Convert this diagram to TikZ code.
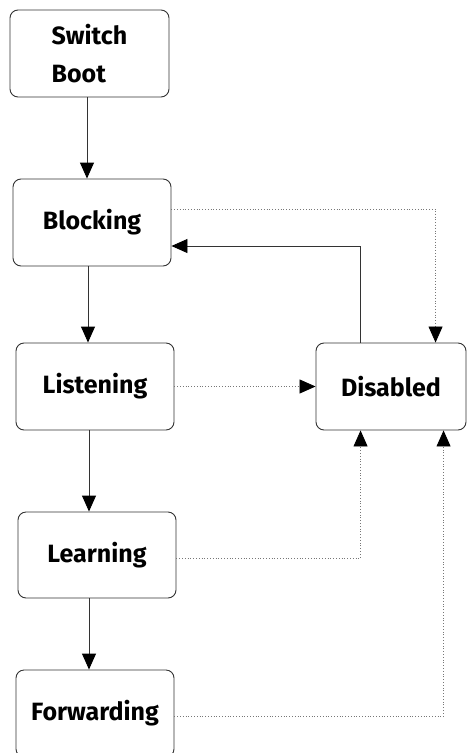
\documentclass[tikz,border=0pt]{standalone}
\usepackage{fontspec}
\setmainfont{Fira Sans}
\usetikzlibrary{arrows.meta,calc}
\definecolor{edge}{HTML}{333333}
\definecolor{dotc}{HTML}{777777}
\begin{document}
\begin{tikzpicture}[x=1pt,y=-1pt,
  state/.style={draw=edge,line width=0.9pt,rounded corners=8pt,minimum width=158pt,minimum height=87pt,inner sep=0pt,font=\fontsize{25}{38}\selectfont\bfseries},
  flow/.style={draw=edge,line width=0.9pt,-{Triangle[length=16pt,width=14pt,color=black]}},
  alt/.style={draw=dotc,line width=0.8pt,dotted,-{Triangle[length=16pt,width=14pt,color=black]}}]
\useasboundingbox (0,0) rectangle (467,753);
\node[state,minimum width=159pt,align=left] (SB) at (89.5,53.5) {Switch\\Boot};
\node[state] (BL) at (92,222.5) {Blocking};
\node[state] (LI) at (95,386.5) {Listening};
\node[state,minimum height=86pt] (LE) at (97,555) {Learning};
\node[state] (FW) at (95,713.5) {Forwarding};
\node[state,minimum width=150pt] (DI) at (391,386.5) {Disabled};
% main chain
\draw[flow] (SB.south -| 87,0) -- (BL.north -| 87,0);
\draw[flow] (BL.south -| 88,0) -- (LI.north -| 88,0);
\draw[flow] (LI.south -| 89,0) -- (LE.north -| 89,0);
\draw[flow] (LE.south -| 89,0) -- (FW.north -| 89,0);
% disabled back to blocking
\coordinate (d1) at ($(DI.north west)+(45,0)$);
\coordinate (b1) at ($(BL.east)+(0,23.5)$);
\draw[flow] (d1) |- (b1);
% dotted transitions to disabled
\coordinate (b2) at ($(BL.east)+(0,-13.5)$);
\coordinate (d2) at ($(DI.north west)+(120,0)$);
\draw[alt] (b2) -| (d2);
\draw[alt] (LI.east) -- (DI.west);
\coordinate (l3) at ($(LE.east)+(0,3)$);
\coordinate (d3) at ($(DI.south west)+(45,0)$);
\draw[alt] (l3) -| (d3);
\coordinate (f4) at ($(FW.east)+(0,2.5)$);
\coordinate (d4) at ($(DI.south west)+(128,0)$);
\draw[alt] (f4) -| (d4);
\end{tikzpicture}
\end{document}
